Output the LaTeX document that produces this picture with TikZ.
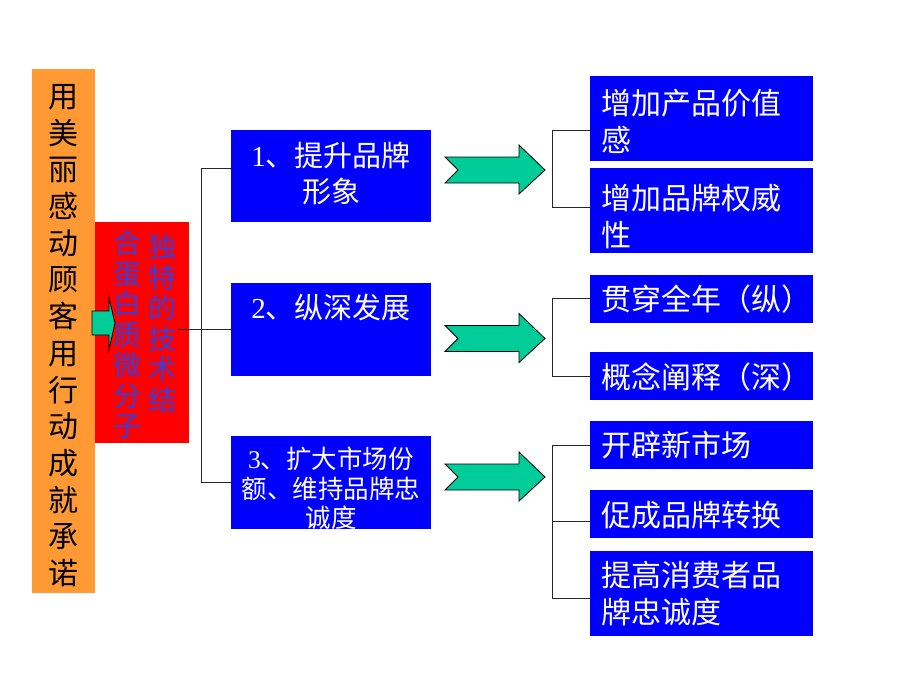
\documentclass[tikz,border=0pt]{standalone}
\usepackage{fontspec}
\newfontfamily\cjk{Noto Sans CJK SC}
\newfontfamily\tnr{Liberation Serif}
\definecolor{orng}{RGB}{255,153,51}
\definecolor{rd}{RGB}{255,0,0}
\definecolor{bl}{RGB}{0,0,255}
\definecolor{tl}{RGB}{0,204,153}
\definecolor{rtxt}{RGB}{60,60,215}
\newcommand\tb[5]{\parbox[c][#1][t]{#2}{\vspace{0pt}#4\rule{0pt}{#3}#5}}
\newcommand\lft{\raggedright\leftskip=11pt\relax}
\tikzset{
  bigarrow/.pic={\draw[fill=tl, draw=black, line width=0.8pt, line join=miter]
     (0,-13) -- (74,-13) -- (74,-25) -- (100,0) -- (74,24) -- (74,13) -- (0,13) -- (13,0) -- cycle;}
}
\begin{document}
\begin{tikzpicture}[x=1pt,y=-1pt,
  conn/.style={draw=black!85, line width=1pt},
  box/.style={inner sep=0pt, outer sep=0pt, anchor=north west},
  bbox/.style={box, fill=bl, text=white, font=\cjk\fontsize{29}{36}\selectfont},
  rbox/.style={box, fill=bl, text=white, font=\cjk\fontsize{30}{37}\selectfont},
]
\useasboundingbox[fill=white] (0,0) rectangle (920,690);

% left orange box
\node[box, fill=orng, text=black, font=\cjk\fontsize{30}{36.7}\selectfont] (org) at (32,69)
  {\tb{524pt}{63pt}{38.4pt}{\centering}{用\\美\\丽\\感\\动\\顾\\客\\用\\行\\动\\成\\就\\承\\诺}};

% red box
\node[box, fill=rd, text=rtxt, font=\cjk\fontsize{28}{30.5}\selectfont] (red) at (95,222)
  {\parbox[c][221pt][t]{94pt}{\vspace{0pt}\hspace*{17pt}%
    \parbox[t]{30pt}{\vspace{0pt}\centering\rule{0pt}{31.6pt}合\\蛋\\白\\质\\微\\分\\子}%
    \hspace{5pt}%
    \parbox[t]{30pt}{\vspace{0pt}\centering\rule{0pt}{35.6pt}独\\特\\的\\技\\术\\结}}};

% small arrow
\draw[fill=tl, draw=black, line width=0.8pt, line join=miter]
  (92,311) -- (109,311) -- (109,298) -- (115,323) -- (109,350) -- (109,335) -- (92,335) -- cycle;

% middle blue boxes
\node[bbox] (b1) at (231,130) {\tb{92pt}{200pt}{36pt}{\centering}{{\tnr 1}、提升品牌\\形象}};
\node[bbox] (b2) at (231,283) {\tb{93pt}{200pt}{35pt}{\centering}{{\tnr 2}、纵深发展}};
\node[bbox, font=\cjk\fontsize{25.5}{29.5}\selectfont] (b3) at (231,436)
  {\tb{93pt}{200pt}{32.5pt}{\centering}{{\tnr 3}、扩大市场份\\额、维持品牌忠\\诚度}};

% left tree connectors
\draw[conn] ([yshift=8pt]b1.west) -- ++(-30,0) |- (b3.west);
\draw[conn] ([xshift=-11pt]red.east |- b2.west) -- (b2.west);

% right boxes
\node[rbox] (r1) at (590,76)  {\tb{85pt}{223pt}{38pt}{\lft}{增加产品价值\\感}};
\node[rbox] (r2) at (590,168) {\tb{85pt}{223pt}{41pt}{\lft}{增加品牌权威\\性}};
\node[rbox] (r3) at (590,275) {\tb{48pt}{223pt}{35pt}{\lft}{贯穿全年（纵）}};
\node[rbox] (r4) at (590,352) {\tb{48pt}{223pt}{36pt}{\lft}{概念阐释（深）}};
\node[rbox] (r5) at (590,421) {\tb{48pt}{223pt}{35pt}{\lft}{开辟新市场}};
\node[rbox] (r6) at (590,490) {\tb{48pt}{223pt}{36pt}{\lft}{促成品牌转换}};
\node[rbox] (r7) at (590,551) {\tb{85pt}{223pt}{35pt}{\lft}{提高消费者品\\牌忠诚度}};

% right brackets
\draw[conn] ([yshift=-11.5pt]r1.west) -- ++(-38,0) |- ([yshift=3.5pt]r2.west);
\draw[conn] ([yshift=1pt]r3.west) -- ++(-38,0) |- (r4.west);
\draw[conn] (r5.west) -- ++(-38,0) |- ([yshift=-4.5pt]r7.west);
\draw[conn] ([yshift=-7pt]r6.west) -- ++(-38,0);

% big arrows
\pic at (445,170) {bigarrow};
\pic at (445,338.5) {bigarrow};
\pic at (445,477) {bigarrow};
\end{tikzpicture}
\end{document}
